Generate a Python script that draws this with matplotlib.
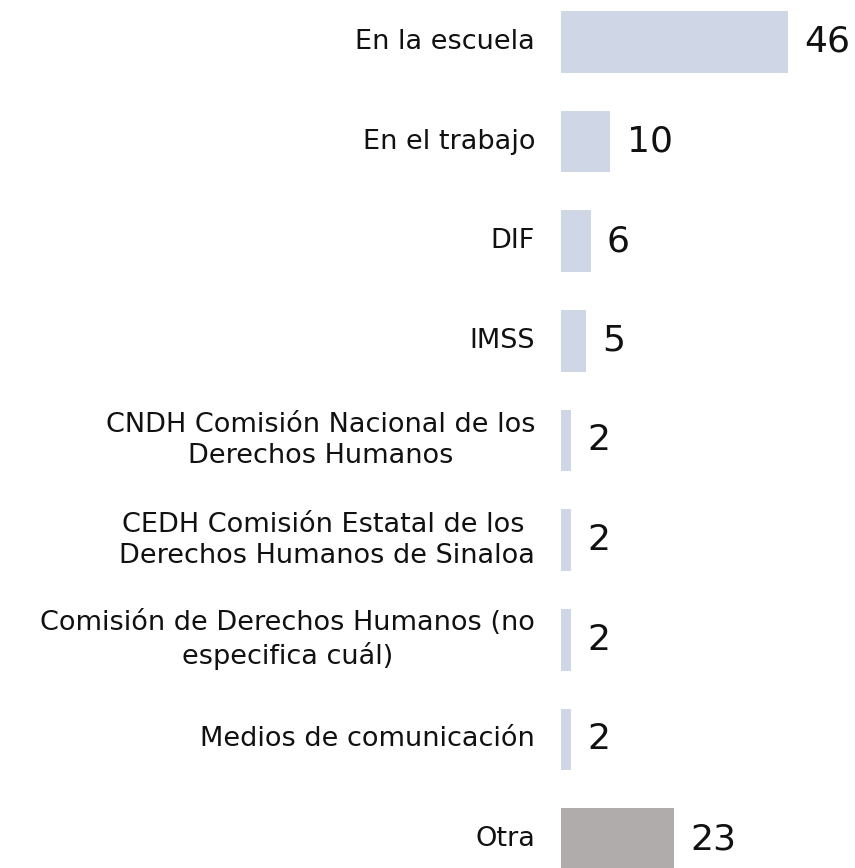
import matplotlib
matplotlib.use("Agg")
import matplotlib.pyplot as plt

categories = [
    "En la escuela",
    "En el trabajo",
    "DIF",
    "IMSS",
    "CNDH Comisión Nacional de los\nDerechos Humanos",
    "CEDH Comisión Estatal de los \nDerechos Humanos de Sinaloa",
    "Comisión de Derechos Humanos (no\nespecifica cuál)",
    "Medios de comunicación",
    "Otra",
]
values = [46, 10, 6, 5, 2, 2, 2, 2, 23]
colors = ["#cfd7e6"] * 8 + ["#b0acab"]

plt.rcParams['font.family'] = ['DejaVu Sans']

fig = plt.figure(figsize=(8.55, 8.68), dpi=100)
ax = fig.add_axes([561 / 855, 0, 1 - 561 / 855, 1])

pos = list(range(len(values)))
ax.barh(pos, values, height=0.62, color=colors)

for p, v, lab in zip(pos, values, categories):
    ax.text(v + 3.3, p, str(v), va='center', ha='left', fontsize=26, color='#111111')
    ax.annotate(lab, xy=(0, p), xytext=(-26, 0), textcoords='offset pixels',
                ha='right', va='center', multialignment='center',
                fontsize=19.5, color='#111111', linespacing=1.25,
                annotation_clip=False)

ax.set_xlim(0, 294 / 4.93)
ax.set_ylim(8.29, -0.42)
ax.axis('off')

fig.savefig("out.png", dpi=100)
